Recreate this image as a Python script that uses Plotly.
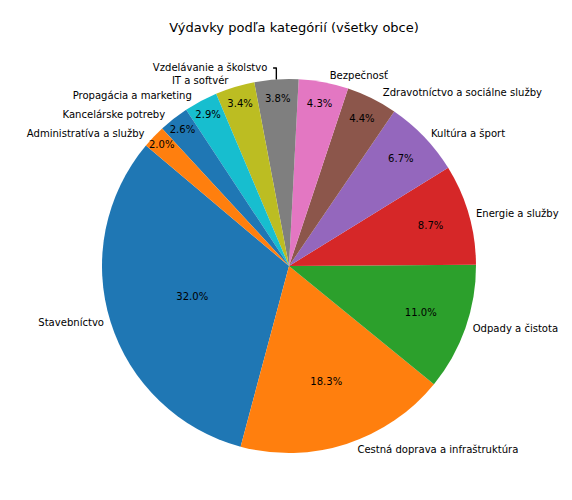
import plotly.graph_objects as go

categories = ["Stavebníctvo", "Cestná doprava a infraštruktúra", "Odpady a čistota",
              "Energie a služby", "Kultúra a šport", "Zdravotníctvo a sociálne služby",
              "Bezpečnosť", "Vzdelávanie a školstvo", "IT a softvér",
              "Propagácia a marketing", "Kancelárske potreby", "Administratíva a služby"]
shares = [32.0, 18.3, 11.0, 8.7, 6.7, 4.4, 4.3, 3.8, 3.4, 2.9, 2.6, 2.0]

tab10 = ["#1f77b4", "#ff7f0e", "#2ca02c", "#d62728", "#9467bd", "#8c564b",
         "#e377c2", "#7f7f7f", "#bcbd22", "#17becf"]
colors = [tab10[i % 10] for i in range(len(categories))]

# plotly anchors the end of the first ccw slice at the rotation angle
common = dict(labels=categories, values=shares, sort=False, direction="counterclockwise",
              rotation=-165, hoverinfo="skip", showlegend=False)

fig = go.Figure()
# outer labels
fig.add_trace(go.Pie(**common, marker=dict(colors=colors, line=dict(width=0)),
                     textinfo="label", textposition="outside",
                     outsidetextfont=dict(size=11, color="black"),
                     automargin=False))
# inner percentages
fig.add_trace(go.Pie(**common, marker=dict(colors=["rgba(0,0,0,0)"] * len(categories), line=dict(width=0)),
                     text=[f"{v:.1f}%" for v in shares], textinfo="text",
                     textposition="inside", insidetextorientation="horizontal",
                     insidetextfont=dict(size=11, color="black"),
                     automargin=False))

fig.update_layout(
    width=572, height=500,
    margin=dict(l=94, r=104, t=71, b=55),
    title=dict(text="Výdavky podľa kategórií (všetky obce)", x=0.5, y=0.97,
               font=dict(size=13, color="black")),
    font=dict(family="DejaVu Sans"),
    paper_bgcolor="white",
    uniformtext=dict(minsize=10, mode="show"),
)

fig.write_html("out.html")
